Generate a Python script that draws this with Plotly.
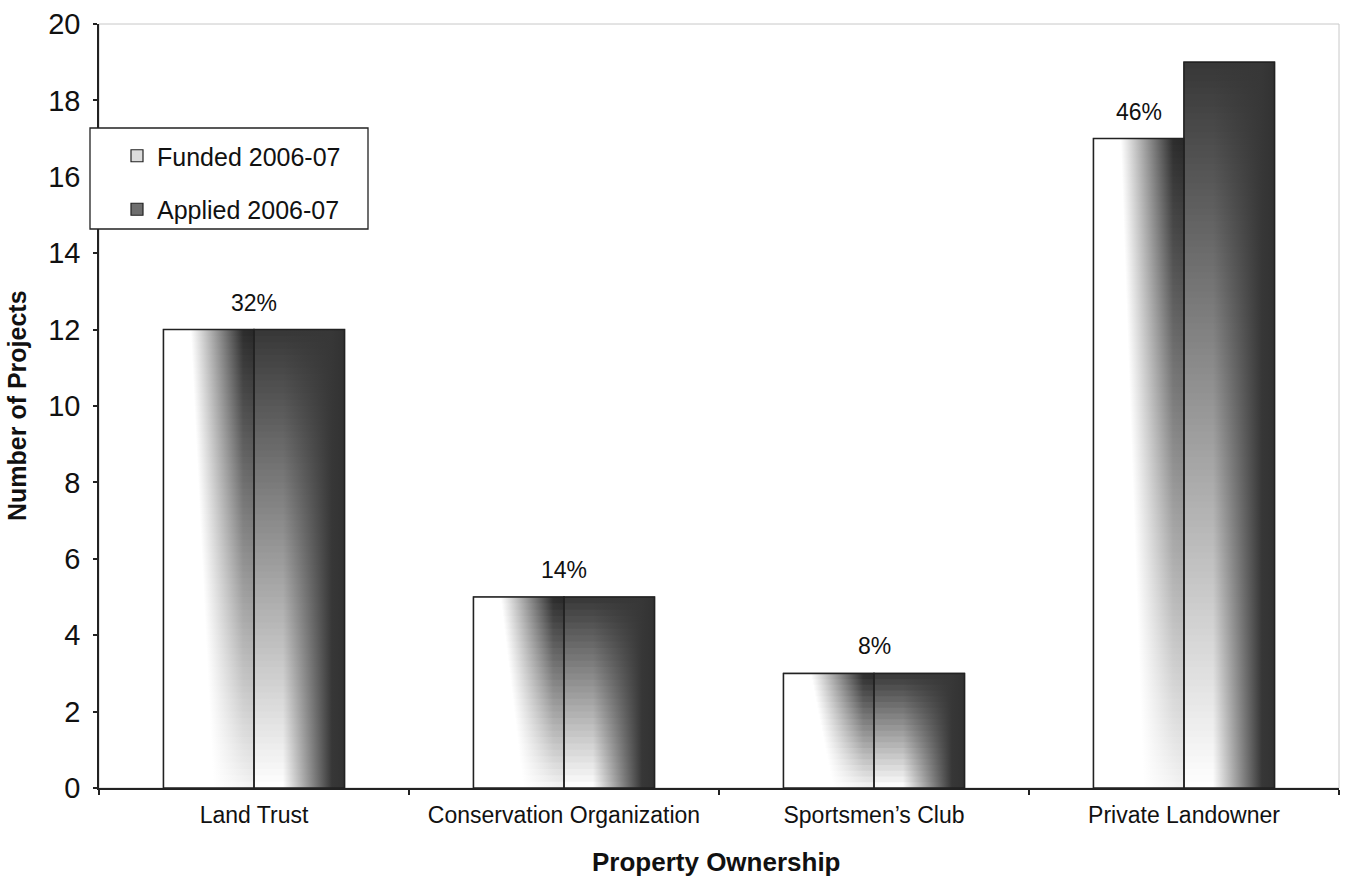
import plotly.graph_objects as go

# Projects by property ownership
categories = ["Land Trust", "Conservation Organization", "Sportsmen\u2019s Club", "Private Landowner"]
funded = [12, 5, 3, 17]
applied = [12, 5, 3, 19]
series_names = ["Funded 2006-07", "Applied 2006-07"]
y_ticks = [0, 2, 4, 6, 8, 10, 12, 14, 16, 18, 20]

FONT = "Liberation Sans, Arial, Helvetica, sans-serif"
BAR_W = 0.292          # width of one bar in category units
STRIPS_PER_UNIT = 6    # horizontal slices per y unit used to build each shaded bar
EDGE = "#222222"

# plot-area geometry in pixels (used for paper-relative placement)
W, H = 1348, 878
M_L, M_R, M_T, M_B = 99, 9, 24, 90
PW, PH = W - M_L - M_R, H - M_T - M_B


def grey(v):
    v = int(round(min(255, max(0, v))))
    return f"rgb({v},{v},{v})"


def funded_shade(t):
    """Left-to-right ramp for a slice at relative height t (0 bottom, 1 top)."""
    knee = 0.55 - 0.25 * t
    dark = 245 - 200 * t
    return [[0, grey(255)], [knee, grey(255)], [0.88, grey(dark)], [1, grey(dark - 5)]]


def applied_shade(t):
    left = 255 - 200 * t
    dark = 55
    return [[0, grey(left)], [0.32, grey(left)], [0.86, grey(dark)], [1, grey(dark - 5)]]


fig = go.Figure()

# Real bar traces: carry the data, hover text and legend entries
fig.add_trace(go.Bar(
    x=list(range(len(categories))), y=funded, width=BAR_W, offset=-BAR_W,
    name=series_names[0], legendgroup="funded",
    marker=dict(color="#dcdcdc", line=dict(color=EDGE, width=1.2)),
    customdata=categories, hovertemplate="%{customdata}: %{y}<extra>" + series_names[0] + "</extra>",
))
fig.add_trace(go.Bar(
    x=list(range(len(categories))), y=applied, width=BAR_W, offset=0,
    name=series_names[1], legendgroup="applied",
    marker=dict(color="#6e6e6e", line=dict(color=EDGE, width=1.2)),
    customdata=categories, hovertemplate="%{customdata}: %{y}<extra>" + series_names[1] + "</extra>",
))


def add_shaded_bar(x0, x1, h, shade):
    n = max(20, int(round(h * STRIPS_PER_UNIT)))
    for k in range(n):
        lo = h * k / n
        hi = min(h, h * (k + 1.5) / n)
        t = (k + 0.5) / n
        fig.add_trace(go.Scatter(
            x=[x0, x1, x1, x0, x0], y=[lo, lo, hi, hi, lo],
            mode="lines", line=dict(width=0), fill="toself",
            fillgradient=dict(type="horizontal", colorscale=shade(t)),
            hoverinfo="skip", showlegend=False,
        ))


outline = {"funded": ([], []), "applied": ([], [])}
for i in range(len(categories)):
    add_shaded_bar(i - BAR_W, i, funded[i], funded_shade)
    add_shaded_bar(i, i + BAR_W, applied[i], applied_shade)
    for key, x0, x1, v in (("funded", i - BAR_W, i, funded[i]), ("applied", i, i + BAR_W, applied[i])):
        xs, ys = outline[key]
        xs += [x0, x0, x1, x1, x0, None]
        ys += [0, v, v, 0, 0, None]

for key in ("funded", "applied"):
    xs, ys = outline[key]
    fig.add_trace(go.Scatter(x=xs, y=ys, mode="lines", line=dict(color=EDGE, width=1.5),
                             hoverinfo="skip", showlegend=False))

# share of funded projects, printed above each group
total_funded = sum(funded)
annotations = []
for i, v in enumerate(funded):
    pct = round(v / total_funded * 100)
    x_lab = i if applied[i] <= v else i - BAR_W / 2
    annotations.append(dict(
        x=x_lab, y=v, xref="x", yref="y", text=f"{pct}%", showarrow=False,
        yanchor="bottom", yshift=12, font=dict(family=FONT, size=23, color="#111"),
    ))

# axis titles
annotations.append(dict(
    x=0.5, y=0, xref="paper", yref="paper", text="<b>Property Ownership</b>",
    showarrow=False, yanchor="middle", yshift=-74, xshift=-3,
    font=dict(family=FONT, size=26, color="#111"),
))
annotations.append(dict(
    x=0, y=0.5, xref="paper", yref="paper", text="<b>Number of Projects</b>",
    showarrow=False, textangle=-90, xanchor="center", xshift=-(M_L - 17),
    font=dict(family=FONT, size=25, color="#111"),
))

boundaries = [i - 0.5 for i in range(len(categories) + 1)]

fig.update_layout(
    width=W, height=H, autosize=False,
    margin=dict(l=M_L, r=M_R, t=M_T, b=M_B),
    paper_bgcolor="white", plot_bgcolor="white",
    barmode="overlay",
    font=dict(family=FONT, color="#111"),
    annotations=annotations,
    showlegend=True,
    legend=dict(
        x=(117 - M_L) / PW, y=(H - M_B - 133) / PH, xanchor="left", yanchor="top",
        bgcolor="rgba(0,0,0,0)", borderwidth=0, tracegroupgap=18,
        font=dict(family=FONT, size=25, color="#111"),
    ),
    shapes=[
        dict(type="rect", xref="paper", yref="paper", x0=0, x1=1, y0=0, y1=1,
             line=dict(color="#c8c8c8", width=1), layer="below"),
        dict(type="rect", xref="paper", yref="paper",
             x0=(90 - M_L) / PW, x1=(368 - M_L) / PW,
             y0=(H - M_B - 229) / PH, y1=(H - M_B - 128) / PH,
             fillcolor="white", line=dict(color=EDGE, width=1.3), layer="above"),
    ],
    xaxis=dict(
        range=[-0.5, len(categories) - 0.5], tickvals=list(range(len(categories))),
        ticktext=categories, ticks="", showgrid=False, zeroline=False,
        showline=True, linecolor=EDGE, linewidth=1.5,
        tickfont=dict(family=FONT, size=23, color="#111"), ticklabelstandoff=6,
        minor=dict(tickmode="array", tickvals=boundaries, ticks="outside",
                   ticklen=5, tickwidth=1.5, tickcolor=EDGE, showgrid=False),
        fixedrange=True,
    ),
    yaxis=dict(
        range=[0, 20], tickvals=y_ticks, ticks="outside", ticklen=4, tickwidth=1.5,
        tickcolor=EDGE, showgrid=False, zeroline=False,
        showline=True, linecolor=EDGE, linewidth=1.5,
        tickfont=dict(family=FONT, size=29, color="#111"), ticklabelstandoff=7,
        fixedrange=True,
    ),
)

fig.write_html("out.html")
